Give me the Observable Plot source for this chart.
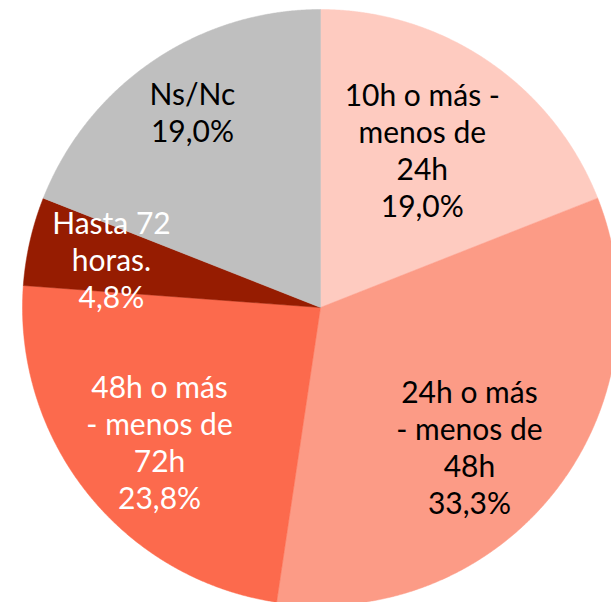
<!DOCTYPE html>
<html><head><meta charset="utf-8">
<script src="https://cdn.jsdelivr.net/npm/d3@7"></script>
<script src="https://cdn.jsdelivr.net/npm/@observablehq/plot@0.6"></script>
<style>body{margin:0;background:#fff}</style>
</head><body><div id="chart"></div>
<script>
const categories = ["10h o más - menos de 24h","24h o más - menos de 48h","48h o más - menos de 72h","Hasta 72 horas.","Ns/Nc"];
const labels = ["10h o más -\nmenos de\n24h","24h o más\n- menos de\n48h","48h o más\n- menos de\n72h","Hasta 72\nhoras.","Ns/Nc"];
const values = [19.0, 33.3, 23.8, 4.8, 19.0];
const valueLabels = ["19,0%","33,3%","23,8%","4,8%","19,0%"];
const colors = ["#FECBC0","#FC9B86","#FC6A4D","#961C01","#BFBFBF"];
const textColors = ["#000000","#000000","#ffffff","#ffffff","#000000"];
// label placement (fraction of radius, angular shift from slice middle in degrees)
const labelRadius = [0.630, 0.683, 0.704, 0.720, 0.786];
const labelShift = [-1.4, 4.5, -1.25, 0.1, 1.1];

const W = 611, H = 602, cx = 320, cy = 307, R = 298;
const arcs = d3.pie().sort(null).value(d => d)(values);
const polys = [];
arcs.forEach((a, i) => {
  polys.push({cat: categories[i], x: 0, y: 0});
  const n = Math.max(2, Math.ceil((a.endAngle - a.startAngle) / 0.004));
  for (let k = 0; k <= n; k++) {
    const t = a.startAngle + (a.endAngle - a.startAngle) * k / n;
    polys.push({cat: categories[i], x: R * Math.sin(t), y: R * Math.cos(t)});
  }
  polys.push({cat: categories[i], x: 0, y: 0});
});
const textData = arcs.map((a, i) => {
  const m = (a.startAngle + a.endAngle) / 2 + labelShift[i] * Math.PI / 180;
  const r = R * labelRadius[i];
  return {text: labels[i] + "\n" + valueLabels[i], x: r * Math.sin(m), y: r * Math.cos(m), color: textColors[i]};
});

const chart = Plot.plot({
  width: W, height: H,
  margin: 0,
  x: {domain: [-cx, W - cx], axis: null},
  y: {domain: [-(H - cy), cy], axis: null},
  color: {domain: categories, range: colors},
  style: {fontFamily: "Lato, sans-serif", background: "#fff"},
  marks: [
    Plot.line(polys, {x: "x", y: "y", z: "cat", fill: "cat", stroke: "cat", strokeWidth: 0.5}),
    Plot.text(textData, {x: "x", y: "y", text: "text", fill: d => d.color, fontSize: 30, lineHeight: 1.233, textAnchor: "middle", lineAnchor: "middle"})
  ]
});
document.getElementById("chart").appendChild(chart);
</script>
</body></html>
